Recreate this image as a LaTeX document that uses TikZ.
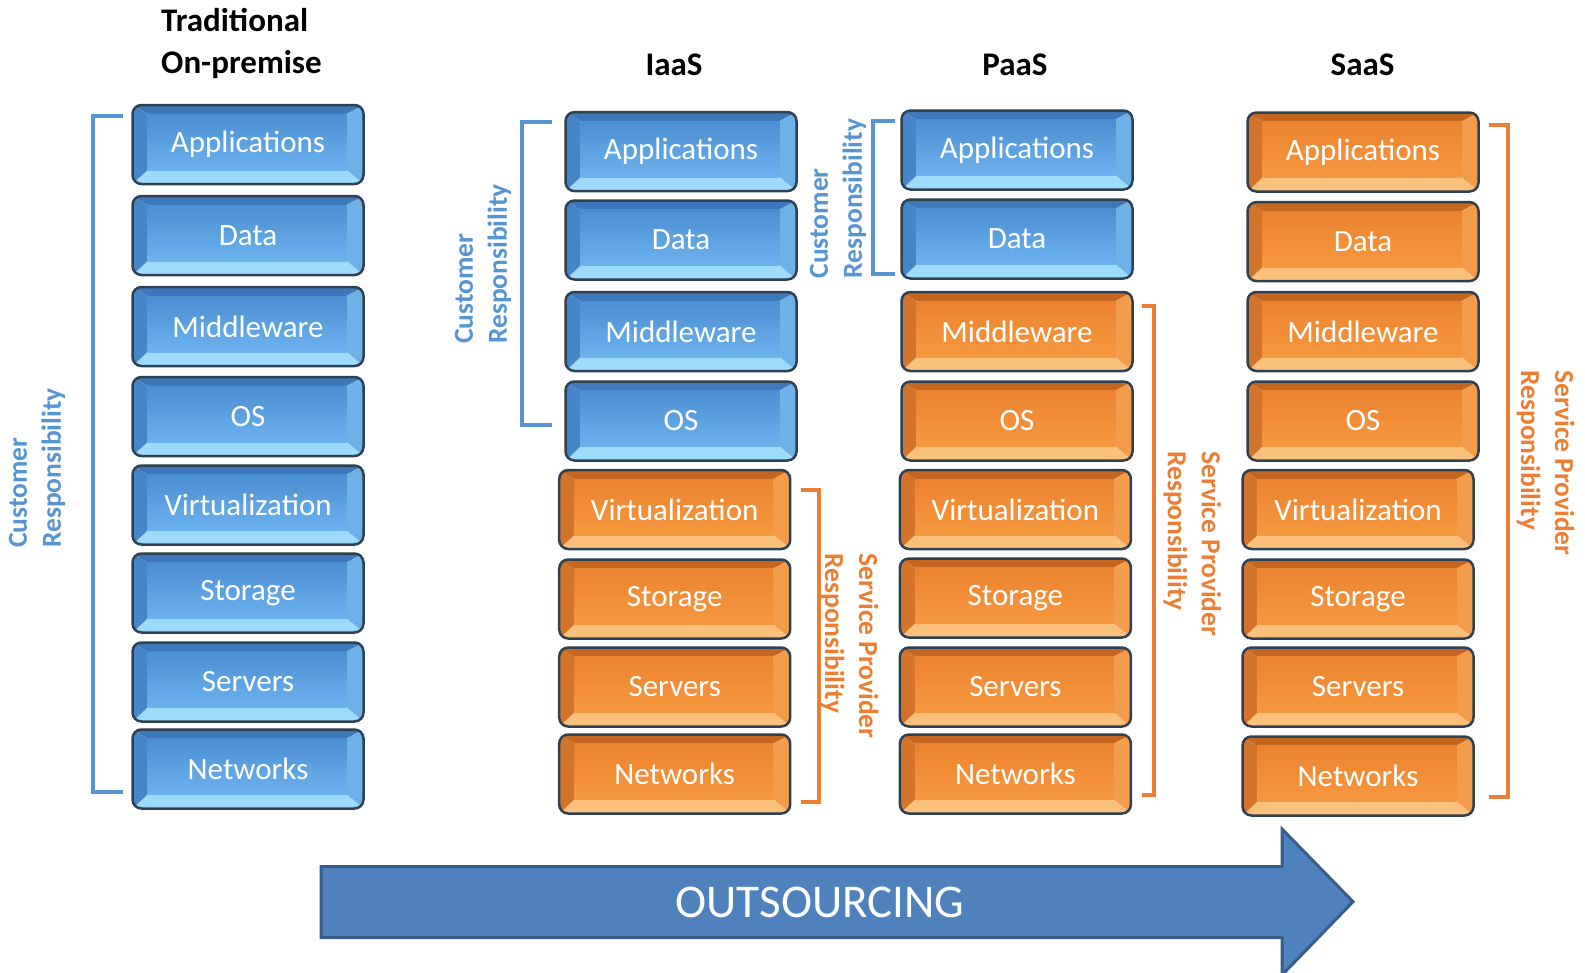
\documentclass[tikz,border=0pt]{standalone}
\usepackage{fontspec}
\setmainfont{Carlito}
\definecolor{bluetop}{HTML}{3C78BA}
\definecolor{blueleft}{HTML}{4686C8}
\definecolor{blueright}{HTML}{6FB0E6}
\definecolor{bluebot}{HTML}{9CDBFC}
\definecolor{blueface}{HTML}{4C8ED2}
\definecolor{blueface2}{HTML}{6CB2EE}
\definecolor{orangetop}{HTML}{C4661F}
\definecolor{orangeleft}{HTML}{D4732A}
\definecolor{orangeright}{HTML}{F39C4C}
\definecolor{orangebot}{HTML}{FBC07C}
\definecolor{orangeface}{HTML}{EC822E}
\definecolor{orangeface2}{HTML}{F6983E}
\definecolor{edge}{HTML}{2E4153}
\definecolor{custblue}{HTML}{5694D2}
\definecolor{sporange}{HTML}{ED7D31}
\definecolor{arrowfill}{HTML}{4F81BD}
\definecolor{arrowedge}{HTML}{385D8A}
\begin{document}
\begin{tikzpicture}[x=1pt,y=-1pt,
  layer/.style={rounded corners=9pt, minimum width=231pt, minimum height=79pt,
    inner sep=0pt, draw=edge, line width=2.5pt, text=white,
    font=\fontsize{31}{37}\selectfont,
    path picture={
      \begin{scope}[sharp corners]
      \coordinate (NW) at (path picture bounding box.north west);
      \coordinate (NE) at (path picture bounding box.north east);
      \coordinate (SW) at (path picture bounding box.south west);
      \coordinate (SE) at (path picture bounding box.south east);
      \coordinate (iNW) at ([shift={(15pt,-9pt)}]NW);
      \coordinate (iNE) at ([shift={(-17pt,-9pt)}]NE);
      \coordinate (iSW) at ([shift={(15pt,14pt)}]SW);
      \coordinate (iSE) at ([shift={(-17pt,14pt)}]SE);
      \fill[#1top] (NW)--(NE)--(iNE)--(iNW)--cycle;
      \fill[#1right] (NE)--(SE)--(iSE)--(iNE)--cycle;
      \fill[#1bot] (SE)--(SW)--(iSW)--(iSE)--cycle;
      \fill[#1left] (SW)--(NW)--(iNW)--(iSW)--cycle;
      \shade[top color=#1face, bottom color=#1face2] (iNW) rectangle (iSE);
      \end{scope}
    }},
  header/.style={text=black, font=\fontsize{33}{40}\selectfont\bfseries, inner sep=0pt},
  custlabel/.style={text=custblue, font=\fontsize{27.5}{34}\selectfont\bfseries, align=left, rotate=90, inner sep=0pt},
  splabel/.style={text=sporange, font=\fontsize{27.5}{34}\selectfont\bfseries, align=left, rotate=-90, inner sep=0pt},
  custbracket/.style={draw=custblue, line width=4pt},
  spbracket/.style={draw=sporange, line width=4pt},
  outarrow/.style={fill=arrowfill, draw=arrowedge, line width=3pt, line join=miter}
]
\useasboundingbox (0,0) rectangle (1585,972);

% headers
\node[header, anchor=west] (h0a) at (161,20.5) {Traditional};
\node[header, anchor=west] (h0b) at (161,64.7) {On-premise};
\node[header] (h1) at (674,64.7) {IaaS};
\node[header] (h2) at (1015,64.7) {PaaS};
\node[header] (h3) at (1362.6,64.7) {SaaS};

% Traditional
\node[layer=blue] (t1) at (248,144.5) {Applications};
\node[layer=blue] (t2) at (248,235.5) {Data};
\node[layer=blue] (t3) at (248,326.5) {Middleware};
\node[layer=blue] (t4) at (248,416.5) {OS};
\node[layer=blue] (t5) at (248,505) {Virtualization};
\node[layer=blue] (t6) at (248,593) {Storage};
\node[layer=blue] (t7) at (248,682) {Servers};
\node[layer=blue] (t8) at (248,769) {Networks};

% IaaS
\node[layer=blue] (i1) at (681,151.6) {Applications};
\node[layer=blue] (i2) at (681,240) {Data};
\node[layer=blue] (i3) at (681,331.5) {Middleware};
\node[layer=blue] (i4) at (681,421) {OS};
\node[layer=orange] (i5) at (674.7,509.5) {Virtualization};
\node[layer=orange] (i6) at (674.7,599) {Storage};
\node[layer=orange] (i7) at (674.7,687) {Servers};
\node[layer=orange] (i8) at (674.7,774) {Networks};

% PaaS
\node[layer=blue] (p1) at (1017,150) {Applications};
\node[layer=blue] (p2) at (1017,239) {Data};
\node[layer=orange] (p3) at (1017,331.5) {Middleware};
\node[layer=orange] (p4) at (1017,421) {OS};
\node[layer=orange] (p5) at (1015.4,509.5) {Virtualization};
\node[layer=orange] (p6) at (1015.4,598) {Storage};
\node[layer=orange] (p7) at (1015.4,687) {Servers};
\node[layer=orange] (p8) at (1015.4,774) {Networks};

% SaaS
\node[layer=orange] (s1) at (1363,152) {Applications};
\node[layer=orange] (s2) at (1363,241.6) {Data};
\node[layer=orange] (s3) at (1363,331.5) {Middleware};
\node[layer=orange] (s4) at (1363,421) {OS};
\node[layer=orange] (s5) at (1358,509.5) {Virtualization};
\node[layer=orange] (s6) at (1358,599) {Storage};
\node[layer=orange] (s7) at (1358,687) {Servers};
\node[layer=orange] (s8) at (1358,776) {Networks};

% brackets
\draw[custbracket] (123.3,116.3) -- (93,116.3) -- (93,791.5) -- (123.3,791.5);
\draw[custbracket] (552,122) -- (521.6,122) -- (521.6,424.5) -- (552,424.5);
\draw[custbracket] (894.7,121.3) -- (873.4,121.3) -- (873.4,274) -- (894.7,274);
\draw[spbracket] (800.6,490) -- (818.8,490) -- (818.8,801.6) -- (800.6,801.6);
\draw[spbracket] (1142.4,306) -- (1154.4,306) -- (1154.4,794.5) -- (1142.4,794.5);
\draw[spbracket] (1489,125.3) -- (1508.3,125.3) -- (1508.3,796.6) -- (1489,796.6);

% labels
\node[custlabel] (lt) at (37,468) {Customer\\Responsibility};
\node[custlabel] (li) at (483,264) {Customer\\Responsibility};
\node[custlabel] (lp) at (838,198.6) {Customer\\Responsibility};
\node[splabel] (li2) at (849.6,646) {Service Provider\\Responsibility};
\node[splabel] (lp2) at (1192.3,543.8) {Service Provider\\Responsibility};
\node[splabel] (ls2) at (1545.6,463) {Service Provider\\Responsibility};

% arrow
\draw[outarrow] (321,866.5) -- (1282,866.5) -- (1282,829) -- (1353,901.7) -- (1282,975) -- (1282,937.5) -- (321,937.5) -- cycle;
\node[text=white, font=\fontsize{47}{56}\selectfont, inner sep=0pt] (out) at (820,902.6) {OUTSOURCING};
\end{tikzpicture}
\end{document}
